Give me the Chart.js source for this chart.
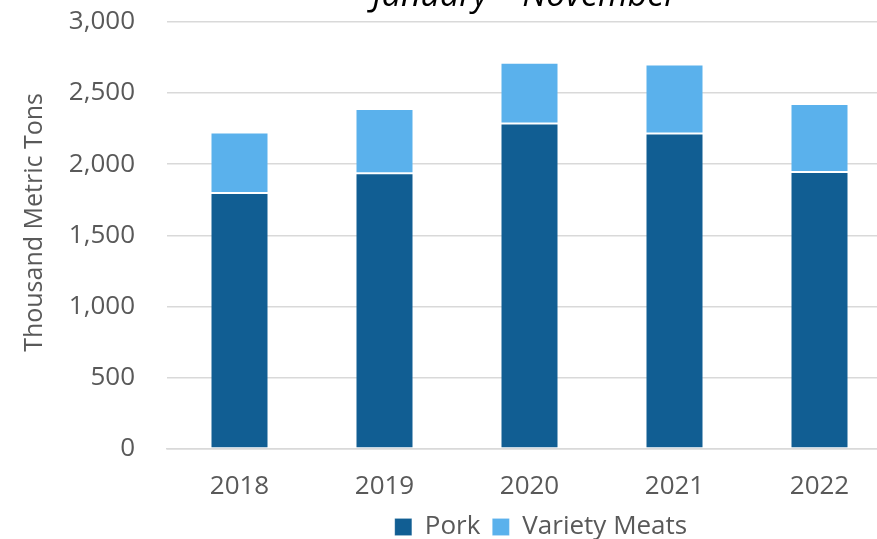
<!DOCTYPE html>
<html>
<head>
    <title></title>
    <script src="https://cdn.jsdelivr.net/npm/chart.js@4/dist/chart.umd.min.js"></script>
    <style>
        body { margin: 0; width: 877px; height: 539px; overflow: hidden; position: relative; background: #fff; }
        #holder { position: absolute; left: 0; top: -32px; }
    </style>
</head>

<body>
    <div id="holder">
        <canvas id="chart-area" width="1082" height="582"></canvas>
    </div>

    <script>
		var years = ['2018', '2019', '2020', '2021', '2022'];
		var pork = [1797, 1937, 2285, 2215, 1946];
		var varietyMeats = [425, 450, 428, 486, 477];
		var yTicks = [0, 500, 1000, 1500, 2000, 2500, 3000];

		var txt = '#595959';
		var fontName = "'Open Sans', sans-serif";

		var config = {
			type: 'bar',
			data: {
				labels: years,
				datasets: [{
					label: 'Pork',
					data: pork,
					backgroundColor: '#115E93',
					borderColor: 'rgba(255,255,255,0.15)',
					borderWidth: 1,
					borderSkipped: false
				}, {
					label: 'Variety Meats',
					data: varietyMeats,
					backgroundColor: '#5AB1EC',
					borderColor: 'rgba(255,255,255,0.15)',
					borderWidth: 1,
					borderSkipped: false
				}]
			},
			options: {
				responsive: false,
				animation: false,
				datasets: { bar: { barPercentage: 0.4, categoryPercentage: 1 } },
				plugins: {
					title: {
						display: true,
						text: 'January \u2013 November ',
						fullSize: false,
						color: '#000',
						font: { family: fontName, size: 34, style: 'italic', weight: 'normal' },
						padding: { top: 8, bottom: 5 }
					},
					legend: {
						position: 'bottom',
						labels: {
							color: txt,
							font: { family: fontName, size: 26 },
							boxWidth: 17,
							boxHeight: 17,
							padding: 12
						}
					},
					tooltip: { enabled: false }
				},
				scales: {
					x: {
						stacked: true,
						afterFit: function(scale) { scale.height = 53; },
						grid: { display: false, drawTicks: false },
						border: { display: true, color: '#d9d9d9', width: 1.5 },
						ticks: { color: txt, font: { family: fontName, size: 26 }, padding: 22 }
					},
					y: {
						stacked: true,
						min: 0,
						max: 3000,
						afterBuildTicks: function(scale) {
							scale.ticks = yTicks.map(function(v) { return { value: v }; });
						},
						afterFit: function(scale) { scale.width = 167; },
						grid: { color: '#d9d9d9', lineWidth: 1.5, drawTicks: false },
						border: { display: false },
						ticks: {
							color: txt,
							font: { family: fontName, size: 26 },
							padding: 32,
							callback: function(v) { return v.toLocaleString('en-US'); }
						},
						title: {
							display: true,
							text: '    Thousand Metric Tons',
							color: txt,
							font: { family: fontName, size: 25 },
							padding: { top: 20, bottom: 0 }
						}
					},
					// empty right-hand space, the plot runs past the visible edge
					yRight: {
						type: 'linear',
						position: 'right',
						afterFit: function(scale) { scale.width = 190; },
						grid: { display: false, drawTicks: false },
						border: { display: false },
						ticks: { display: false }
					}
				}
			}
		};

		window.onload = function() {
			var ctx = document.getElementById('chart-area').getContext('2d');
			window.myBar = new Chart(ctx, config);
		};
    </script>
</body>
</html>
